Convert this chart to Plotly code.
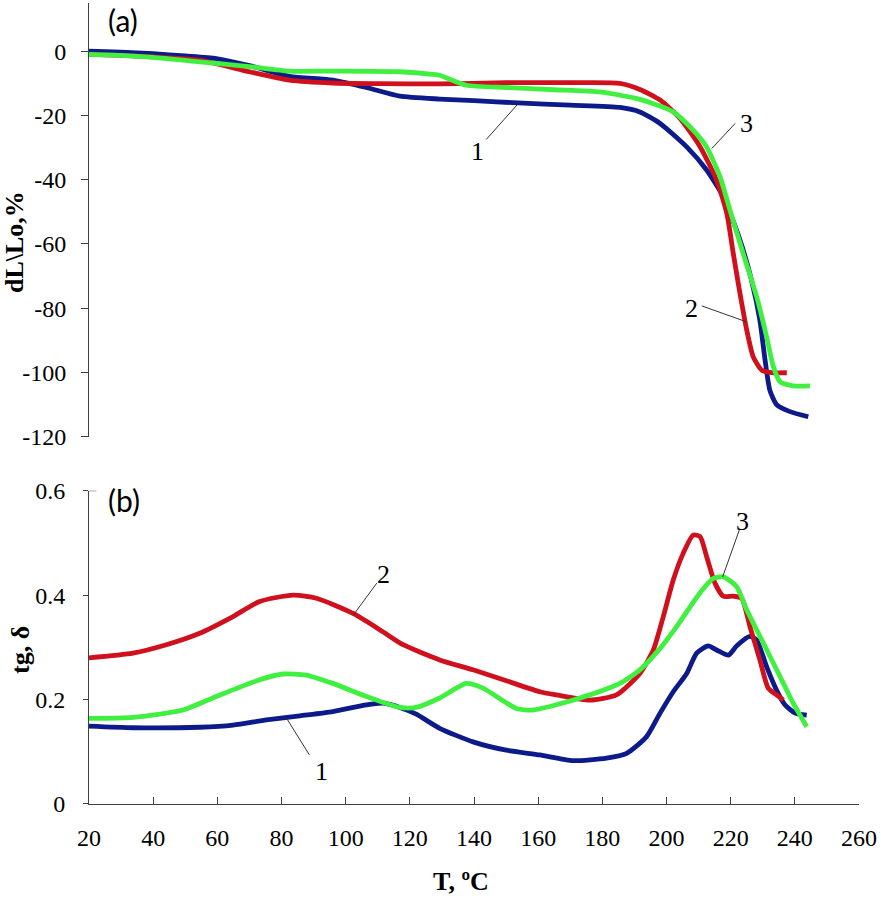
import plotly.graph_objects as go

# ---------- data ----------
# Panel (a): dL/Lo, %
T1a = [20, 30, 40, 50, 59.7, 70, 82.5, 96, 106.5, 116.9, 129.3, 140, 153.7, 170, 185.5, 191.7, 198, 206.3, 212.5, 217.7, 222.9, 226.5, 229.1, 230.7, 232.2, 234.3, 238.5, 244.2]
Y1a = [0, -0.3, -0.8, -1.5, -2.3, -4.5, -7.8, -9.0, -11.3, -14.0, -14.9, -15.4, -16.1, -16.8, -17.5, -18.9, -22.5, -29.8, -37.0, -45.3, -58.8, -71.3, -83.7, -96.0, -105.5, -110.0, -112.2, -113.8]

T2a = [20, 30, 40, 54.5, 70, 82.5, 96, 110, 129.3, 150, 170, 185.5, 191.7, 198, 204.2, 210.5, 215.6, 218.8, 220.8, 222.9, 225, 227, 229.7, 233.3, 237.5]
Y2a = [-1.0, -1.3, -1.8, -2.8, -6.4, -9.0, -9.9, -10.1, -10.2, -9.8, -9.8, -10.0, -11.9, -15.2, -20.9, -29.8, -40.1, -50.5, -62.9, -75.4, -86.8, -95.1, -99.3, -100.1, -100.1]

T3a = [20, 30, 40, 54.5, 70, 82.5, 96, 116.9, 127.1, 129.3, 137.6, 150.1, 165, 179.2, 191.7, 202.1, 208.3, 212.5, 216.7, 219.8, 223.9, 228.1, 231.2, 233.3, 235.4, 239.5, 244.7]
Y3a = [-1.0, -1.3, -1.9, -3.3, -4.8, -6.2, -6.2, -6.4, -7.2, -7.5, -10.6, -11.3, -12.0, -12.7, -15.0, -18.9, -24.6, -29.8, -39.1, -49.5, -63.0, -76.4, -88.9, -98.2, -102.9, -104.2, -104.2]

# Panel (b): tg delta
T1b = [20, 33.7, 54.5, 64.9, 75.3, 85.7, 96, 106.5, 111.6, 116.9, 122, 129.3, 139.7, 150.1, 160.5, 170.9, 181.3, 187.6, 193.8, 198, 202.1, 206.3, 209.4, 213, 215.6, 219.3, 221.9, 226, 228.1, 231.2, 234.3, 236.9, 240.1, 243.7]
Y1b = [0.149, 0.146, 0.147, 0.151, 0.161, 0.169, 0.177, 0.190, 0.193, 0.185, 0.172, 0.145, 0.119, 0.103, 0.094, 0.083, 0.088, 0.097, 0.129, 0.174, 0.215, 0.250, 0.289, 0.303, 0.295, 0.285, 0.303, 0.321, 0.314, 0.263, 0.218, 0.190, 0.174, 0.170]

T2b = [20, 33.7, 44.1, 54.5, 64.9, 73.2, 83.6, 90.9, 102.3, 111.6, 117.9, 129.3, 139.7, 150.1, 160.5, 165.7, 176.1, 184.4, 191.7, 195.9, 199, 202.1, 205.2, 208.3, 210.5, 212.5, 215.1, 217.7, 220.8, 223.4, 226, 229.1, 231.7, 234.3, 236.4]
Y2b = [0.280, 0.289, 0.305, 0.327, 0.359, 0.388, 0.400, 0.394, 0.365, 0.330, 0.305, 0.276, 0.257, 0.236, 0.215, 0.209, 0.199, 0.209, 0.250, 0.295, 0.359, 0.429, 0.480, 0.515, 0.512, 0.474, 0.423, 0.398, 0.398, 0.394, 0.340, 0.276, 0.222, 0.209, 0.199]

T3b = [20, 33.7, 49.3, 59.7, 73.2, 80.5, 87.7, 96, 106.5, 116.9, 122, 129.3, 137.6, 142.8, 153.2, 158.4, 165.7, 176.1, 185.5, 191.7, 198, 204.2, 209.9, 214.6, 217.7, 221.9, 225, 230.2, 235.4, 239.5, 243.7]
Y3b = [0.164, 0.166, 0.180, 0.206, 0.238, 0.249, 0.247, 0.231, 0.206, 0.185, 0.185, 0.203, 0.231, 0.222, 0.183, 0.180, 0.190, 0.209, 0.231, 0.257, 0.298, 0.349, 0.400, 0.432, 0.435, 0.416, 0.372, 0.308, 0.244, 0.193, 0.148]

x_ticks = [20, 40, 60, 80, 100, 120, 140, 160, 180, 200, 220, 240, 260]
ya_ticks = [0, -20, -40, -60, -80, -100, -120]
ya_labels = ["0", "-20", "-40", "-60", "-80", "-100", "-120"]
yb_ticks = [0, 0.2, 0.4, 0.6]
yb_labels = ["0", "0.2", "0.4", "0.6"]

BLUE = "#0d1a8a"
RED = "#d0101c"
GREEN = "#40f040"
AX = "#404040"
SERIF = "Liberation Serif, Times New Roman, serif"

fig = go.Figure()
for T, Y, c in [(T1a, Y1a, BLUE), (T2a, Y2a, RED), (T3a, Y3a, GREEN)]:
    fig.add_trace(go.Scatter(x=T, y=Y, mode="lines", line=dict(color=c, width=4.8, shape="spline", smoothing=0.6),
                             xaxis="x2", yaxis="y2", showlegend=False, hoverinfo="skip"))
for T, Y, c in [(T1b, Y1b, BLUE), (T2b, Y2b, RED), (T3b, Y3b, GREEN)]:
    fig.add_trace(go.Scatter(x=T, y=Y, mode="lines", line=dict(color=c, width=4.8, shape="spline", smoothing=0.6),
                             xaxis="x", yaxis="y", showlegend=False, hoverinfo="skip"))

tickfont = dict(family=SERIF, size=24, color="black")
W, H, L, R, Tm, B = 881, 898, 89, 22, 3, 94
fig.update_layout(
    template="none",
    width=W, height=H,
    margin=dict(l=L, r=R, t=Tm, b=B, pad=0, autoexpand=False),
    paper_bgcolor="white", plot_bgcolor="white",
    font=dict(family=SERIF, size=24, color="black"),
    xaxis=dict(domain=[0, 1], range=[20, 260], tickvals=x_ticks, ticks="inside", ticklen=7, tickcolor=AX,
               showline=True, linecolor=AX, linewidth=1, showgrid=False, zeroline=False, automargin=False,
               tickfont=tickfont, ticklabelstandoff=12, anchor="y"),
    yaxis=dict(domain=[0, 0.3911], range=[0, 0.6], tickvals=yb_ticks, ticktext=yb_labels, ticks="outside",
               ticklen=5, tickcolor=AX, showline=True, linecolor=AX, linewidth=1, showgrid=False,
               zeroline=False, automargin=False, tickfont=tickfont, ticklabelstandoff=13, anchor="x"),
    xaxis2=dict(domain=[0, 1], range=[20, 260], visible=False, anchor="y2", matches="x"),
    yaxis2=dict(domain=[0.4586, 1.0], range=[-120, 15], tickvals=ya_ticks, ticktext=ya_labels, ticks="outside",
                ticklen=7, tickcolor=AX, showline=True, linecolor=AX, linewidth=1, showgrid=False, zeroline=False,
                automargin=False, tickfont=tickfont, ticklabelstandoff=10, anchor="x2"),
)

ann = []
# axis titles and panel letters (positions in page pixels, converted to paper coords)
ann.append(dict(text="<b>dL\\Lo,%</b>", x=15, y=242, textangle=-90,
                font=dict(family=SERIF, size=26, color="black")))
ann.append(dict(text="<b>tg, δ</b>", x=20, y=650, textangle=-90,
                font=dict(family=SERIF, size=26, color="black")))
ann.append(dict(text="<b>T, ºC</b>", x=461, y=881,
                font=dict(family=SERIF, size=26, color="black")))
ann.append(dict(text="(a)", x=123, y=20, font=dict(family="Lato", size=30, color="black")))
ann.append(dict(text="(b)", x=124, y=500, font=dict(family="Lato", size=30, color="black")))
for a in ann:
    a["x"] = (a["x"] - L) / (W - L - R)
    a["y"] = (H - B - a["y"]) / (H - Tm - B)
    a.update(xref="paper", yref="paper", xanchor="center", yanchor="middle", showarrow=False)

# curve labels with leader lines (data coordinates)
labels = [
    ("1", 141.2, -31.3, (143.8, -27.5), (153.8, -16.3), "x2", "y2"),
    ("3", 224.8, -22.5, (221.4, -22.5), (214.1, -30.3), "x2", "y2"),
    ("2", 207.9, -80.1, (211.0, -79.3), (224.8, -84.2), "x2", "y2"),
    ("2", 111.7, 0.439, (109.7, 0.423), (102.4, 0.362), "x", "y"),
    ("1", 92.4, 0.062, (88.7, 0.094), (81.6, 0.164), "x", "y"),
    ("3", 223.7, 0.541, (222.7, 0.525), (217.5, 0.435), "x", "y"),
]
shapes = []
for txt, x, y, p0, p1, xr, yr in labels:
    ann.append(dict(text=txt, x=x, y=y, xref=xr, yref=yr, showarrow=False, xanchor="center", yanchor="middle",
                    font=dict(family=SERIF, size=26, color="black")))
    shapes.append(dict(type="line", x0=p0[0], y0=p0[1], x1=p1[0], y1=p1[1], xref=xr, yref=yr,
                       line=dict(color="#333333", width=1)))
# small inward tick at the top of the lower y axis
shapes.append(dict(type="line", x0=20, x1=22.3, y0=0.6, y1=0.6, xref="x", yref="y",
                   line=dict(color=AX, width=1)))

fig.update_layout(annotations=ann, shapes=shapes)
fig.write_html("out.html", config={"displayModeBar": False, "staticPlot": True},
               post_script="document.body.style.margin='0';document.body.style.overflow='hidden';")
